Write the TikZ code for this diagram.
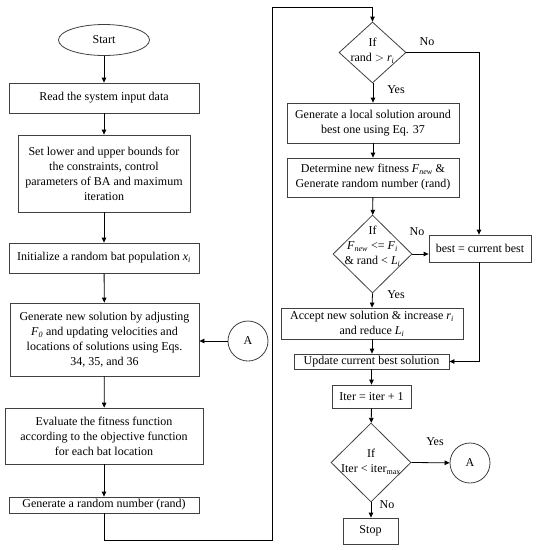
\documentclass[tikz,border=0pt]{standalone}
\usepackage{fontspec}
\setmainfont{Liberation Serif}
\usetikzlibrary{shapes.geometric,arrows.meta}
\newcommand\isub[2]{\textit{#1}\textsubscript{\textit{#2}}}
\begin{document}
\begin{tikzpicture}[x=1pt,y=-1pt,
  every node/.style={font=\fontsize{12}{15}\selectfont},
  box/.style={draw=black!75,line width=0.8pt,rectangle,inner sep=1pt,align=center},
  dia/.style={draw=black!75,line width=0.8pt,diamond,inner sep=0pt},
  circ/.style={draw=black!75,line width=0.8pt,circle,inner sep=0pt,minimum size=40pt},
  lbl/.style={inner sep=1pt},
  arr/.style={draw=black,line width=0.8pt,-{Triangle[length=5pt,width=4.5pt]}},
  ln/.style={draw=black,line width=0.8pt}]
\useasboundingbox (0,0) rectangle (536,550);
% left column
\node[draw=black!75,line width=0.8pt,ellipse,minimum width=91pt,minimum height=31pt,inner sep=0pt] (start) at (104,40) {Start};
\node[box,minimum width=190pt,minimum height=30pt] (read) at (104,98) {Read the system input data};
\node[box,minimum width=172pt,minimum height=77pt] (set) at (104,173.5) {Set lower and upper bounds for\\the constraints, control\\parameters of BA and maximum\\iteration};
\node[box,minimum width=190pt,minimum height=30pt] (init) at (104,258) {Initialize a random bat population \isub{x}{i}};
\node[box,minimum width=189pt,minimum height=73pt] (gen) at (104.5,339.5) {Generate new solution by adjusting\\\isub{F}{0} and updating velocities and\\locations of solutions using Eqs.\\34, 35, and 36};
\node[circ] (ca) at (248,341) {A};
\node[box,minimum width=198pt,minimum height=56pt] (eval) at (104,436) {Evaluate the fitness function\\according to the objective function\\for each bat location};
\node[box,minimum width=190pt,minimum height=16pt,inner sep=0pt] (rnd) at (104,505) {Generate a random number (rand)};
% right column
\node[dia,minimum width=67pt,minimum height=61pt] (d1) at (372.5,52.5) {};
\node[align=center,inner sep=0pt] at (372.5,51) {If\\rand $>$ \isub{r}{i}};
\node[box,minimum width=172pt,minimum height=40pt] (local) at (373,123) {Generate a local solution around\\best one using Eq. 37};
\node[box,minimum width=172pt,minimum height=39pt] (det) at (373,177.5) {Determine new fitness \isub{F}{new} \&\\Generate random number (rand)};
\node[dia,minimum width=79pt,minimum height=78pt] (d2) at (372.5,254) {};
\node[align=center,inner sep=0pt] at (372.5,246) {If\\\isub{F}{new} <= \isub{F}{i}\\\& rand < \isub{L}{i}};
\node[box,minimum width=102pt,minimum height=27pt] (best) at (480,248.5) {best = current best};
\node[box,minimum width=182pt,minimum height=31pt] (acc) at (372,323.5) {Accept new solution \& increase \isub{r}{i}\\and reduce \isub{L}{i}};
\node[box,minimum width=155pt,minimum height=15pt,inner sep=0pt] (upd) at (371.5,361.5) {Update current best solution};
\node[box,minimum width=79pt,minimum height=23pt] (iter) at (371.5,396.5) {Iter = iter + 1};
\node[dia,minimum width=80pt,minimum height=79pt] (d3) at (371,462.5) {};
\node[align=center,inner sep=0pt] at (371,462) {If\\Iter < iter\textsubscript{max}};
\node[circ] (cb) at (470,463) {A};
\node[box,minimum width=55pt,minimum height=26pt] (stop) at (370.5,531) {Stop};
% coordinates
\coordinate (p1) at (104,540);
\coordinate (p2) at (272,540);
\coordinate (p3) at (272,7);
\coordinate (p4) at (372.5,7);
\coordinate (q1) at (479,52.5);
\coordinate (q2) at (479,361.5);
% connectors left
\draw[arr] (start) -- (read);
\draw[arr] (read) -- (set);
\draw[arr] (set) -- (init);
\draw[arr] (init) -- (gen);
\draw[arr] (ca) -- (gen.east |- ca);
\draw[arr] (gen) -- (eval);
\draw[arr] (eval) -- (rnd);
\draw[ln] (rnd.south) -- (p1) -- (p2) -- (p3) -- (p4);
\draw[arr] (p4) -- (d1.north);
% right
\draw[arr] (d1.south) -- (local.north |- d1.south) -- (local.north);
\draw[arr] (local) -- (det);
\draw[arr] (det) -- (d2);
\draw[arr] (d2.south) -- (acc.north);
\draw[arr] (acc.south) -- (upd.north -| acc.south);
\draw[arr] (upd) -- (iter);
\draw[arr] (iter) -- (d3);
\draw[arr] (d3.south) -- (stop.north -| d3.south);
\draw[arr] (d3.east) -- (cb);
\draw[arr] (d1.east) -- (q1) -- (best.north -| q1);
\draw[arr] (d2.east) -- (best.west |- d2.east);
\draw[arr] (best.south -| q1) -- (q2) -- (upd.east);
% labels
\node[lbl] at (427,42) {No};
\node[lbl] at (396,90) {Yes};
\node[lbl] at (417,232) {No};
\node[lbl] at (396,295) {Yes};
\node[lbl] at (435,442) {Yes};
\node[lbl] at (387,505) {No};
\end{tikzpicture}
\end{document}
